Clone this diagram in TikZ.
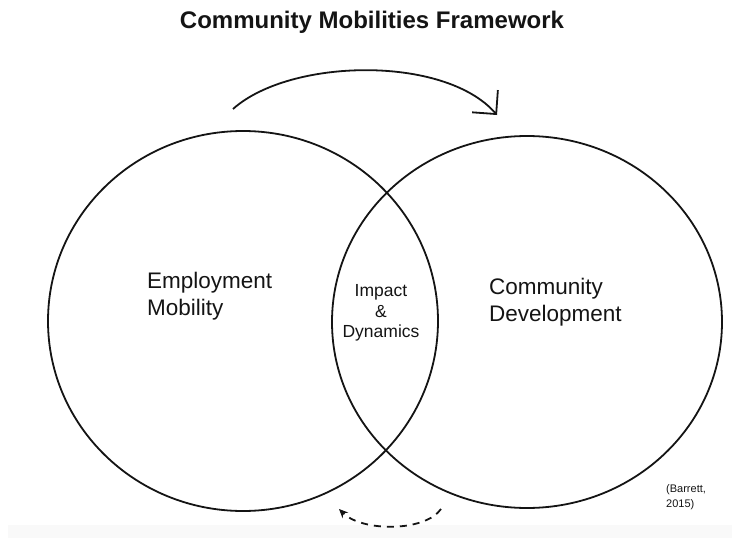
\documentclass[tikz,border=0pt]{standalone}
\usepackage{fontspec}
\setmainfont{Liberation Sans}
\setsansfont{Liberation Sans}
\usetikzlibrary{positioning,arrows.meta,shapes.geometric}
\definecolor{cmInk}{RGB}{20,20,20}
\definecolor{cmBand}{RGB}{249,249,249}
\tikzset{
    base/.style={font=\sffamily, text=cmInk, inner sep=0pt},
    ring/.style={ellipse, draw=cmInk, line width=1.8pt, inner sep=0pt},
    heading/.style={base, font=\sffamily\bfseries\fontsize{24}{28}\selectfont},
    area label/.style={base, font=\sffamily\fontsize{22.5}{27.5}\selectfont, align=left, anchor=west},
    overlap label/.style={base, font=\sffamily\fontsize{17.5}{20.5}\selectfont, align=center},
    source label/.style={base, font=\sffamily\fontsize{11}{15}\selectfont, align=left, anchor=west},
    flow/.style={line width=1.8pt, draw=cmInk, -{Straight Barb[length=17pt,width=34pt,line width=1.8pt]}},
    back flow/.style={line width=1.8pt, draw=cmInk, dash pattern=on 7pt off 6pt,
                      -{Stealth[length=9pt,width=8pt]}}
}

\begin{document}
\begin{tikzpicture}[x=1pt, y=-1pt]
  \useasboundingbox (0,0) rectangle (732,538);
  \fill[cmBand] (8,525) rectangle (732,538);

  \node[heading] (title) at (372,22) {Community Mobilities Framework};

  % the two overlapping fields
  \node[ring, minimum width=390pt, minimum height=380pt] (employ) at (243,321) {};
  \node[ring, minimum width=390pt, minimum height=372pt] (commun) at (527,322) {};

  \node[area label] (employ text) at (147,296) {Employment\\Mobility};
  \node[area label] (commun text) at (489,302) {Community\\Development};
  \node[overlap label] (overlap) at (381,313) {Impact\\\&\\Dynamics};
  \node[source label] (source) at (666,497) {(Barrett,\\2015)};

  % forward and return flows
  \coordinate (fwd start) at (233,109);
  \coordinate (fwd end) at (497,115);
  \coordinate (back start) at (441,509);
  \coordinate (back end) at (339,509);

  \draw[flow] (fwd start) .. controls (290,58) and (445,55) .. (fwd end);
  \draw[back flow] (back start) .. controls (425,532) and (362,532) .. (back end);
\end{tikzpicture}
\end{document}
